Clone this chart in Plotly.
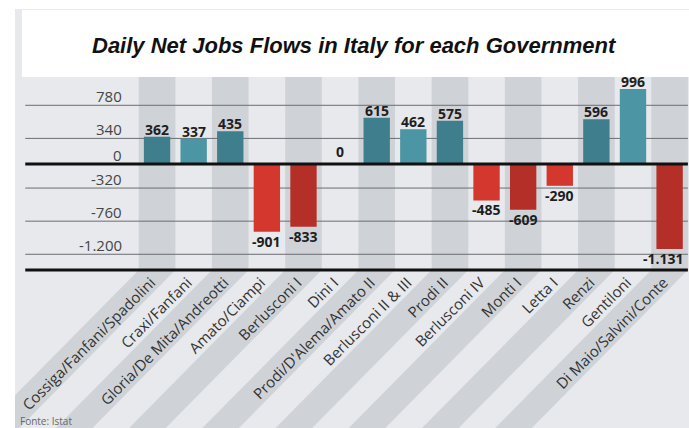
import plotly.graph_objects as go

governments = [
    "Cossiga/Fanfani/Spadolini", "Craxi/Fanfani", "Gloria/De Mita/Andreotti",
    "Amato/Ciampi", "Berlusconi I", "Dini I", "Prodi/D'Alema/Amato II",
    "Berlusconi II & III", "Prodi II", "Berlusconi IV", "Monti I", "Letta I",
    "Renzi", "Gentiloni", "Di Maio/Salvini/Conte",
]
daily_jobs = [362, 337, 435, -901, -833, 0, 615, 462, 575, -485, -609, -290, 596, 996, -1131]
y_ticks = [780, 340, 0, -320, -760, -1200]
y_tick_labels = ["780", "340", "0", "-320", "-760", "-1.200"]

TITLE = "Daily Net Jobs Flows in Italy for each Government"
SOURCE = "Fonte: Istat"

# geometry (pixels)
W, H = 689, 428
ML, MR, MT, MB = 15, 0, 77, 158
PH = H - MT - MB          # plot height
PX_PER_CAT = 36.6
XR = [-3.88, 14.53]
YR = [-1409, 1156]

def px_to_paper_y(py):
    return (H - MB - py) / PH

def px_to_paper_x(px):
    return (px - ML) / (W - ML - MR)

n = len(governments)
idx = list(range(n))

DARK_TEAL, LIGHT_TEAL = "#3e7e8d", "#4b95a5"
DARK_RED, LIGHT_RED = "#b52f29", "#d4372d"
colors = []
for i, v in enumerate(daily_jobs):
    if v >= 0:
        colors.append(DARK_TEAL if i % 2 == 0 else LIGHT_TEAL)
    else:
        colors.append(DARK_RED if i % 2 == 0 else LIGHT_RED)

fig = go.Figure(go.Bar(
    x=idx, y=daily_jobs, width=0.72,
    marker=dict(color=colors, line=dict(width=0)),
    hoverinfo="skip",
))

shapes = []
BG = "#e7e9ec"
STRIPE = "#cfd3d8"
# panel background
shapes.append(dict(type="rect", xref="paper", yref="paper", x0=0, x1=1,
                   y0=px_to_paper_y(H + 2), y1=px_to_paper_y(9),
                   fillcolor=BG, line=dict(width=0), layer="below"))
# white title box
shapes.append(dict(type="rect", xref="paper", yref="paper", x0=px_to_paper_x(22), x1=1,
                   y0=1, y1=px_to_paper_y(10),
                   fillcolor="white", line=dict(width=0), layer="below"))
# column stripes + diagonal continuation below axis
dy_px = H - (H - MB)
d = dy_px / PX_PER_CAT
yb = px_to_paper_y(H + 2)
for i in idx:
    if i % 2 == 0:
        shapes.append(dict(type="rect", xref="x", yref="paper", x0=i - 0.5, x1=i + 0.5,
                           y0=0, y1=1, fillcolor=STRIPE, line=dict(width=0), layer="below"))
        path = (f"M {i-0.5},0 L {i+0.5},0 L {i+0.5-d},{yb} L {i-0.5-d},{yb} Z")
        shapes.append(dict(type="path", xref="x", yref="paper", path=path,
                           fillcolor=STRIPE, line=dict(width=0), layer="below"))
# gridlines
GX0, GX1 = -3.6, 14.5
for t in y_ticks:
    if t == 0:
        continue
    shapes.append(dict(type="line", xref="x", yref="y", x0=GX0, x1=GX1, y0=t, y1=t,
                       line=dict(color="#6a6d72", width=1), layer="below"))
# zero line and bottom line
shapes.append(dict(type="line", xref="x", yref="y", x0=GX0, x1=GX1, y0=0, y1=0,
                   line=dict(color="#111111", width=3), layer="above"))
shapes.append(dict(type="line", xref="x", yref="paper", x0=GX0, x1=GX1, y0=0, y1=0,
                   line=dict(color="#111111", width=3), layer="above"))

annotations = []
annotations.append(dict(text=f"<b><i>{TITLE}</i></b>", xref="paper", yref="paper",
                        x=px_to_paper_x(354), y=px_to_paper_y(45), showarrow=False,
                        xanchor="center", yanchor="middle",
                        font=dict(family="Liberation Sans, Arial", size=22, color="#111111")))
# y tick labels
for t, lab in zip(y_ticks, y_tick_labels):
    annotations.append(dict(text=lab, xref="x", yref="y", x=-0.9, y=t, showarrow=False,
                            xanchor="right", yanchor="bottom", yshift=-3,
                            font=dict(family="Open Sans", size=15, color="#454545")))
# value labels
for i, v in enumerate(daily_jobs):
    lab = f"{v:,}".replace(",", ".")
    a = dict(text=f"<b>{lab}</b>", xref="x", yref="y", x=i, y=v, showarrow=False,
             font=dict(family="Open Sans", size=14, color="#1e1e1e"))
    if v > 0:
        a.update(yanchor="bottom", yshift=-4)
    elif v == 0:
        a.update(yanchor="bottom", yshift=1)
    else:
        a.update(yanchor="top", yshift=2)
    if i == n - 1:
        a.update(xshift=-6)
    annotations.append(a)
annotations.append(dict(text=SOURCE, xref="paper", yref="paper",
                        x=px_to_paper_x(18), y=px_to_paper_y(421), showarrow=False,
                        xanchor="left", yanchor="middle",
                        font=dict(family="Open Sans", size=10, color="#666666")))

fig.update_layout(
    width=W, height=H,
    margin=dict(l=ML, r=MR, t=MT, b=MB, pad=0),
    paper_bgcolor="white", plot_bgcolor="rgba(0,0,0,0)",
    showlegend=False,
    shapes=shapes, annotations=annotations,
    xaxis=dict(range=XR, tickmode="array", tickvals=idx, ticktext=governments,
               tickangle=-45, showgrid=False, zeroline=False, showline=False,
               ticks="", ticklabelshift=-6, ticklabelstandoff=0,
               tickfont=dict(family="Open Sans", size=15, color="#333333"),
               fixedrange=True),
    yaxis=dict(range=YR, showgrid=False, zeroline=False, showticklabels=False,
               showline=False, ticks="", fixedrange=True),
)

fig.write_html("out.html", config={"displayModeBar": False})
